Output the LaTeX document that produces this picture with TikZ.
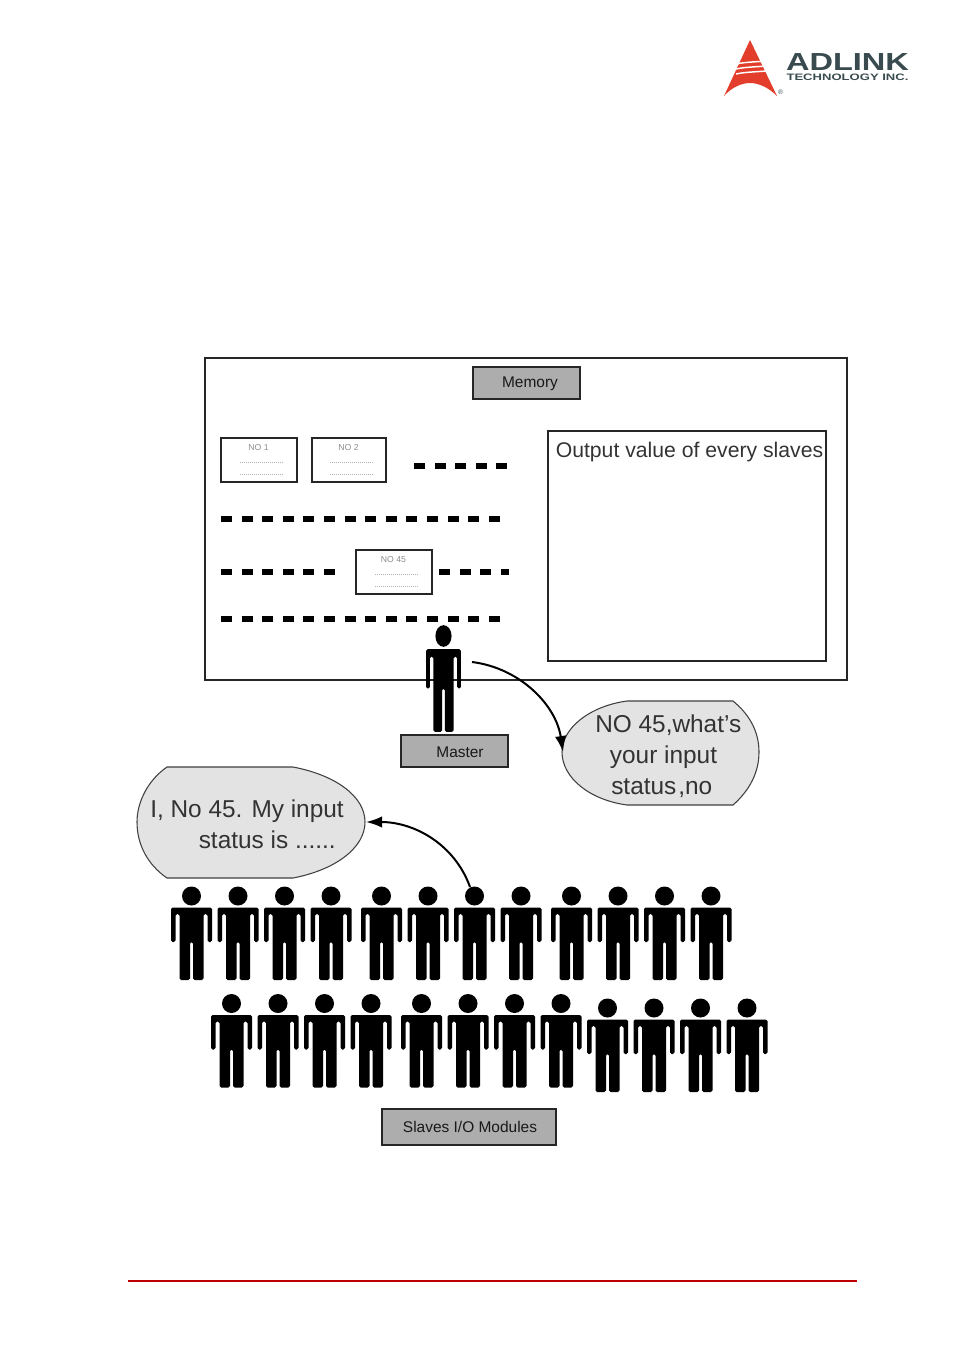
\documentclass[tikz,border=0pt]{standalone}
\usepackage{fontspec}
\setmainfont{Liberation Sans}
\usetikzlibrary{arrows.meta,positioning}
\definecolor{logored}{HTML}{E33E2B}
\definecolor{logogray}{HTML}{3A4B50}
\tikzset{
    person/.pic={
        \fill (0,0) circle (9.5);
        \fill[rounded corners=1.2pt] (-20.5,11.5) -- (-20.5,46) -- (-16,46) -- (-16,18) -- (-12,18)
            -- (-12,84) -- (-1.5,84) -- (-1.5,46) -- (1.5,46) -- (1.5,84) -- (12,84) -- (12,18)
            -- (16,18) -- (16,46) -- (20.5,46) -- (20.5,11.5) -- cycle;
    },
    graybox/.style={draw=black!85,fill=black!32,line width=0.9pt,inner sep=0pt,outer sep=0pt},
    boxtext/.style={inner sep=0pt,text=black!90,font=\fontsize{11.6}{13}\selectfont},
    framebox/.style={draw=black!85,line width=0.9pt,inner sep=0pt,outer sep=0pt},
    bubble/.style={draw=black!75,fill=black!11,line width=0.8pt},
    saytext/.style={inner sep=0pt,text=black!80,font=\fontsize{18.3}{23.2}\selectfont},
    rowdash/.style={line width=3.8pt,dash pattern=on 8.2pt off 7.25pt},
    talk/.style={line width=1.5pt,-{Latex[length=12pt,width=8.5pt]}},
}
\begin{document}
\begin{tikzpicture}[x=0.75pt,y=-0.75pt]
    \useasboundingbox (0,0) rectangle (954,1351);
    %% logo
    \fill[logored] (750,40) -- (777,96) .. controls (768,87) and (758,83) .. (750,83)
        .. controls (742,83) and (732,87) .. (724,96) -- cycle;
    \foreach \ya/\yb in {64/62,69/67,74/72}
        \draw[white,line width=1.1pt] (736,\ya) .. controls (745,\yb) and (755,\yb) .. (766,\yb-1);
    \node[inner sep=0pt,text=logogray,font=\fontsize{5}{6}\selectfont] (regmark) at (780.5,92.5) {®};
    \node[inner sep=0pt,xscale=1.32,text=logogray,font=\fontsize{18.5}{20}\bfseries\selectfont] (adlink) at (847.5,62) {ADLINK};
    \node[inner sep=0pt,xscale=1.4,text=logogray,font=\fontsize{7}{8}\bfseries\selectfont] (adtech) at (847.5,77.5) {TECHNOLOGY INC.};
    %% memory
    \node[framebox,minimum width=481.5pt,minimum height=241.5pt] (memory) at (526,519) {};
    \node[graybox,minimum width=80.25pt,minimum height=24pt] (membox) at (526.5,383) {};
    \node[boxtext] (memtext) at (530,383.5) {Memory};
    \node[framebox,minimum width=208.5pt,minimum height=172.5pt] (outbox) at (687,546) {};
    \node[inner sep=0pt,text=black!80,font=\fontsize{15.9}{18}\selectfont] (outtext) at (689.5,452.5) {Output value of every slaves};
    %% slave cards
    \foreach \cname/\cx/\cy/\cw/\ctext in {noa/259/460/57pt/NO 1,nob/349/460/55.5pt/NO 2,noc/394/572/57pt/NO 45}{
        \node[framebox,minimum width=\cw,minimum height=33pt] (\cname) at (\cx,\cy) {};
        \node[inner sep=0pt,text=black!45,font=\fontsize{6.5}{7}\selectfont] (\cname text) at (\cx-0.5,\cy-12) {\ctext};
        \draw[black!30,line width=0.5pt,densely dotted] (\cx-19,\cy+2) -- (\cx+24,\cy+2);
        \draw[black!30,line width=0.5pt,densely dotted] (\cx-19,\cy+14) -- (\cx+24,\cy+14);
    }
    \draw[rowdash] (414,466) -- (508,466);
    \draw[rowdash] (221,519) -- (501,519);
    \draw[rowdash] (221,572) -- (336,572);
    \draw[rowdash] (439,572) -- (509,572);
    \draw[rowdash] (221,619) -- (501,619);
    %% master
    \pic[xscale=0.85,yscale=1.14] at (443.5,636) {person};
    \node[graybox,minimum width=80.25pt,minimum height=24pt] (masterbox) at (454.5,751) {};
    \node[boxtext] (mastertext) at (460,752.5) {Master};
    \draw[bubble] (627,701) .. controls (590,706) and (562,728) .. (562,752)
        .. controls (562,778) and (590,800) .. (627,805) -- (733,805)
        .. controls (750,790) and (759,772) .. (759,752)
        .. controls (759,732) and (750,715) .. (733,701) -- cycle;
    \node[saytext,align=left,anchor=west] (asktext) at (595,756.5) {NO 45,what's\\\hspace*{11pt}your input\\\hspace*{12pt}{\spaceskip=1.5pt status ,no}};
    \coordinate (askfrom) at (472,662);
    \coordinate (askto) at (563,752);
    \draw[talk] (askfrom) .. controls (520,668) and (556,705) .. (askto);
    %% reply
    \draw[bubble] (167,767) .. controls (148,780) and (137,802) .. (137,822)
        .. controls (137,845) and (148,865) .. (167,878) -- (293,878)
        .. controls (335,870) and (365,848) .. (365,822)
        .. controls (365,796) and (335,775) .. (293,767) -- cycle;
    \node[saytext,align=right,anchor=east] (replytext) at (344,824) {I, No 45. My input\\status is ......\hspace*{6pt}};
    \coordinate (replyfrom) at (470,887);
    \coordinate (replyto) at (366,822);
    \draw[talk] (replyfrom) .. controls (455,845) and (415,822) .. (replyto);
    %% slaves
    \foreach \px in {191.5,238,284.5,331,381.5,428,474.5,521,571.5,618,664.5,711}
        \pic at (\px,896) {person};
    \foreach \px in {231.5,278,324.5,371,421.5,468,514.5,561}
        \pic at (\px,1003.5) {person};
    \foreach \px in {607.5,654,700.5,747}
        \pic at (\px,1008) {person};
    \node[graybox,minimum width=130.5pt,minimum height=27pt] (slavebox) at (469,1127) {};
    \node[boxtext] (slavetext) at (470,1127) {Slaves I/O Modules};
    %% footer
    \draw[red!75!black,line width=1.2pt] (128,1281) -- (857,1281);
\end{tikzpicture}
\end{document}
